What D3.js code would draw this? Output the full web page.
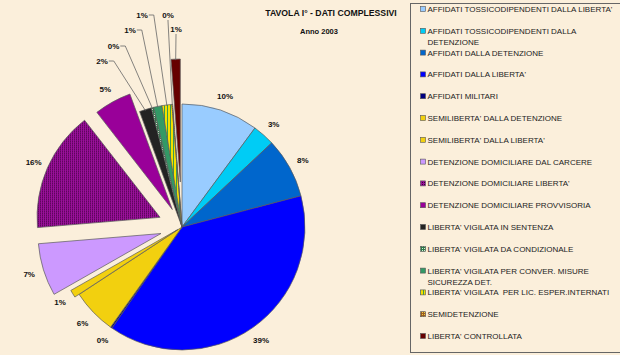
<!DOCTYPE html>
<html><head><meta charset="utf-8">
<script src="https://cdn.jsdelivr.net/npm/d3@7"></script>
<style>
html,body{margin:0;padding:0;background:#FBEFDB;}
svg{display:block;font-family:"Liberation Sans",Arial,sans-serif;}
</style></head>
<body>
<svg id="chart" width="620" height="355"></svg>
<script>
const title = "TAVOLA I° - DATI COMPLESSIVI";
const subtitle = "Anno 2003";
const categories = [
  "AFFIDATI TOSSICODIPENDENTI DALLA LIBERTA'",
  "AFFIDATI TOSSICODIPENDENTI DALLA DETENZIONE",
  "AFFIDATI DALLA DETENZIONE",
  "AFFIDATI DALLA LIBERTA'",
  "AFFIDATI MILITARI",
  "SEMILIBERTA' DALLA DETENZIONE",
  "SEMILIBERTA' DALLA LIBERTA'",
  "DETENZIONE DOMICILIARE DAL CARCERE",
  "DETENZIONE DOMICILIARE LIBERTA'",
  "DETENZIONE DOMICILIARE PROVVISORIA",
  "LIBERTA' VIGILATA IN SENTENZA",
  "LIBERTA' VIGILATA DA CONDIZIONALE",
  "LIBERTA' VIGILATA PER CONVER. MISURE SICUREZZA DET.",
  "LIBERTA' VIGILATA  PER LIC. ESPER.INTERNATI",
  "SEMIDETENZIONE",
  "LIBERTA' CONTROLLATA"
];
const values = [10.1, 2.9, 7.9, 38.7, 0.2, 5.9, 1.0, 6.9, 15.8, 4.9, 1.6, 0.3, 1.1, 1.3, 0.1, 1.2];
const explodeOffsets = [0, 0, 0, 0, 0, 0, 5, 22, 24, 20, 0, 0, 0, 0, 0, 45];
const fills = ["#99CCFF", "#00CCF5", "#0066CC", "#0000FF", "#000080", "#F2D00F", "#F2D00F",
  "#CC99FF", "url(#dotPurple)", "#990099", "#232323", "url(#checkGreen)", "#339966",
  "url(#hatchYG)", "url(#dotBrown)", "#660000"];
// manual label placement for the thin top slices (relative to pie centre)
const tailLabels = {10: {dx: -80, dy: -166, lead: "side"}, 11: {dx: -68.5, dy: -181, lead: "side"},
  12: {dx: -52, dy: -197, lead: "side"}, 13: {dx: -40, dy: -212, lead: "side"},
  14: {dx: -14, dy: -212, lead: "below"}, 15: {dx: -6, dy: -198, lead: "below"}};

const svg = d3.select("#chart");
const defs = svg.append("defs");
let p = defs.append("pattern").attr("id","dotPurple").attr("width",2).attr("height",2).attr("patternUnits","userSpaceOnUse");
p.append("rect").attr("width",2).attr("height",2).attr("fill","#9B109B");
p.append("rect").attr("width",1).attr("height",1).attr("fill","#3A003A");
p = defs.append("pattern").attr("id","checkGreen").attr("width",2).attr("height",2).attr("patternUnits","userSpaceOnUse");
p.append("rect").attr("width",2).attr("height",2).attr("fill","#2F7A4A");
p.append("rect").attr("width",1).attr("height",1).attr("fill","#D8EED8");
p = defs.append("pattern").attr("id","hatchYG").attr("width",3).attr("height",3).attr("patternUnits","userSpaceOnUse");
p.append("rect").attr("width",3).attr("height",3).attr("fill","#F5E000");
p.append("rect").attr("width",1).attr("height",3).attr("fill","#3C9A50");
p = defs.append("pattern").attr("id","dotBrown").attr("width",2).attr("height",2).attr("patternUnits","userSpaceOnUse");
p.append("rect").attr("width",2).attr("height",2).attr("fill","#9A5A20");
p.append("rect").attr("width",1).attr("height",1).attr("fill","#F0D040");

const cx = 182, cy = 227, R = 123, labelR = 138;
const total = d3.sum(values);
const data = values.map((v,i)=>({v, i, name: categories[i]}));
const pie = d3.pie().sort(null).value(d=>d.v).startAngle(0).endAngle(2*Math.PI);
const arcs = pie(data);
const arc = d3.arc().innerRadius(0).outerRadius(R);
const pct = v => Math.round(v/total*100) + "%";
const off = (a,e) => [e*Math.sin(a), -e*Math.cos(a)];

const g = svg.append("g").attr("transform",`translate(${cx},${cy})`);
// draw the far-exploded slice first so it sits behind
const order = arcs.slice().sort((a,b)=> (b.data.i===15) - (a.data.i===15));
g.selectAll("path.slice").data(order).join("path").attr("class","slice")
  .attr("d", arc)
  .attr("transform", d=>{const m=(d.startAngle+d.endAngle)/2; const o=off(m, explodeOffsets[d.data.i]); return `translate(${o[0]},${o[1]})`;})
  .attr("fill", d=>fills[d.data.i])
  .attr("stroke","#5a5a5a").attr("stroke-width",0.7).attr("stroke-linejoin","round");

// labels
const lg = svg.append("g").attr("font-size","8px").attr("font-weight","bold").attr("fill","#111");
arcs.forEach(d=>{
  const i = d.data.i, m=(d.startAngle+d.endAngle)/2, e=explodeOffsets[i];
  const t = tailLabels[i];
  let x, y;
  if (t) { x = cx + t.dx; y = cy + t.dy; }
  else { const o = off(m, labelR + e); x = cx + o[0]; y = cy + o[1]; }
  const txt = lg.append("text").attr("x",x).attr("y",y+3).attr("text-anchor","middle").text(pct(d.data.v));
  if (t) {
    const w = txt.node().getComputedTextLength();
    const end = off(m, R + e);
    const ex = cx + end[0], ey = cy + end[1] + 1;
    let pts;
    if (t.lead === "side") pts = [[x + w/2 + 1, y], [x + w/2 + 6, y], [ex, ey]];
    else pts = [[x, y + 5], [x, y + 6], [ex, ey]];
    svg.append("path").attr("d", d3.line()(pts)).attr("fill","none").attr("stroke","#666").attr("stroke-width",0.8);
  }
});

// title
svg.append("text").attr("x",331).attr("y",16).attr("text-anchor","middle").attr("font-size","8.7px").attr("font-weight","bold").attr("fill","#111").text(title);
svg.append("text").attr("x",319).attr("y",34).attr("text-anchor","middle").attr("font-size","7.5px").attr("font-weight","bold").attr("fill","#111").text(subtitle);

// legend
svg.append("rect").attr("x",410.5).attr("y",3.5).attr("width",220).attr("height",349).attr("fill","none").attr("stroke","#666").attr("stroke-width",1);
const leg = svg.append("g").attr("font-size","8px").attr("fill","#222");
const rowY = d3.scaleLinear().domain([0,15]).range([9,336]);
categories.forEach((name,i)=>{
  const y = rowY(i);
  leg.append("rect").attr("x",420.5).attr("y",y-2.5).attr("width",5).attr("height",5).attr("fill",fills[i]).attr("stroke","#555").attr("stroke-width",0.6);
  const words = name.split(" ");
  let line = "", lines = [];
  const probe = leg.append("text").attr("x",-1000).attr("y",-1000);
  words.forEach(wd=>{
    const test = line ? line + " " + wd : wd;
    probe.text(test);
    if (probe.node().getComputedTextLength() > 196 && line) { lines.push(line); line = wd; }
    else line = test;
  });
  lines.push(line); probe.remove();
  lines.forEach((ln,k)=>{
    leg.append("text").attr("x",427.5).attr("y",y+3+k*11.5).attr("xml:space","preserve").style("white-space","pre").text(ln);
  });
});
</script>
</body></html>
